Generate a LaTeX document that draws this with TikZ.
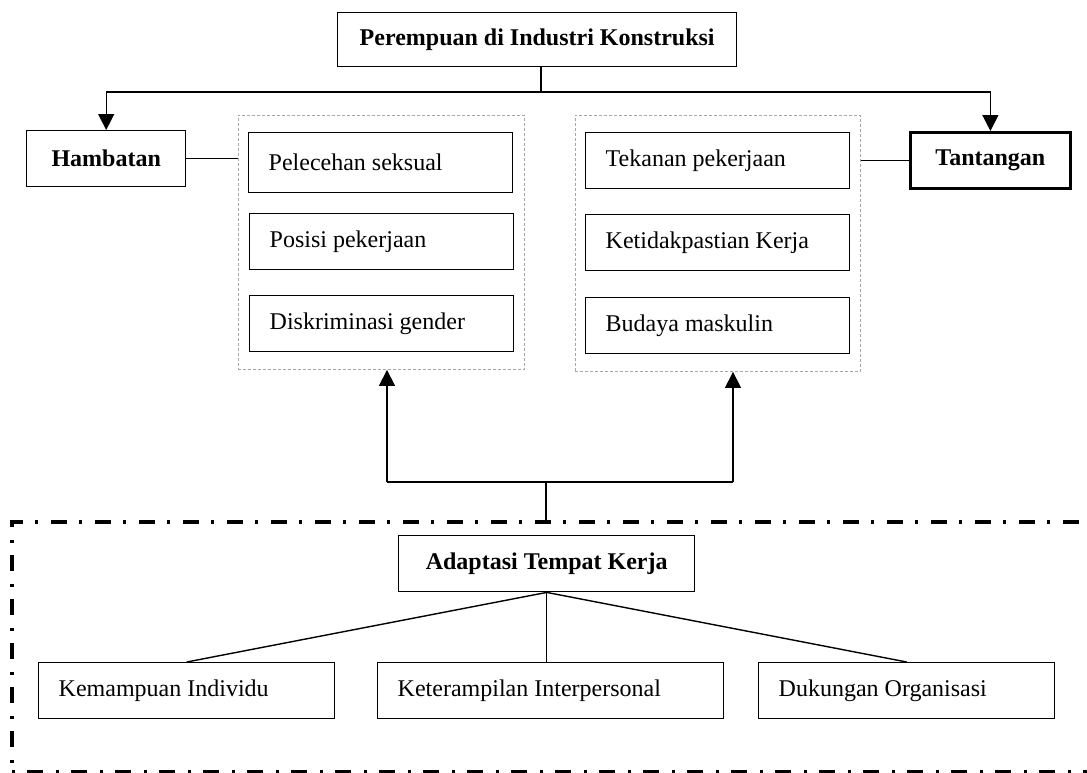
\documentclass[tikz,border=0pt]{standalone}
\usepackage{fontspec}
\setmainfont{Liberation Serif}
\usetikzlibrary{positioning, fit, arrows.meta, calc}

\begin{document}
\begin{tikzpicture}[x=0.5pt, y=-0.5pt, font=\fontsize{12pt}{14pt}\selectfont,
  box/.style={draw, line width=0.7pt, inner sep=0pt, minimum height=28pt},
  headbox/.style={box, anchor=north west, font=\fontsize{12pt}{14pt}\selectfont\bfseries},
  itembox/.style={box, anchor=north west, align=flush left, inner xsep=10pt, text width=112pt},
  group/.style={draw=gray!70, line width=0.5pt, dash pattern=on 1.5pt off 1pt, inner xsep=5pt, inner ysep=8.5pt},
  link/.style={line width=0.7pt},
  arr/.style={link, -{Triangle[length=8pt, width=8pt]}},
  areabox/.style={draw, line width=2pt, dash pattern=on 1.5pt off 6pt on 8pt off 6.5pt}]
  \useasboundingbox (0,0) rectangle (1087,772);

  % Top
  \node[headbox, minimum width=199.5pt, minimum height=27pt] (top) at (337,12) {Perempuan di Industri Konstruksi};
  \node[headbox, minimum width=79.5pt] (ham) at (26,130) {Hambatan};
  \node[headbox, line width=1.4pt, minimum width=80pt] (tan) at (909,131) {Tantangan};

  % Left column
  \node[itembox, minimum height=30pt] (h1) at (248,132) {Pelecehan seksual};
  \node[itembox] (h2) at (249,213) {Posisi pekerjaan};
  \node[itembox] (h3) at (249,295) {Diskriminasi gender};
  \node[group, fit=(h1)(h2)(h3)] (hg) {};

  % Right column
  \node[itembox] (t1) at (585,132) {Tekanan pekerjaan};
  \node[itembox] (t2) at (585,214) {Ketidakpastian Kerja};
  \node[itembox] (t3) at (585,297) {Budaya maskulin};
  \node[group, fit=(t1)(t2)(t3)] (tg) {};

  % Lines from the top
  \coordinate (split) at (541,92);
  \draw[link] (top.south -| split) -- (split);
  \draw[arr] (split) -| (ham.north);
  \draw[arr] (split) -| (tan.north);
  \draw[link] (ham.east) -- (ham.east -| hg.west);
  \draw[link] (tan.west) -- (tan.west -| tg.east);

  % Bottom area
  \node[areabox, anchor=north west, minimum width=560pt, minimum height=125pt] (area) at (10,520) {};
  \node[headbox, minimum width=148pt] (adp) at (398,535) {Adaptasi Tempat Kerja};
  \node[itembox, text width=128pt] (a1) at (38,662) {Kemampuan Individu};
  \node[itembox, text width=153pt] (a2) at (377,662) {Keterampilan Interpersonal};
  \node[itembox, text width=128pt] (a3) at (758,662) {Dukungan Organisasi};
  \draw[link] (adp.south) -- (a1.north);
  \draw[link] (adp.south) -- (adp.south |- a2.north);
  \draw[link] (adp.south) -- (a3.north);

  % Arrows up to the columns
  \coordinate (jl) at (387,482);
  \coordinate (jr) at (733,482);
  \coordinate (js) at (546,482);
  \draw[link] (jl) -- (jr);
  \draw[arr] (jl) -- (jl |- hg.south);
  \draw[arr] (jr) -- (jr |- tg.south);
  \draw[link] (js) -- (js |- area.north);
\end{tikzpicture}
\end{document}
